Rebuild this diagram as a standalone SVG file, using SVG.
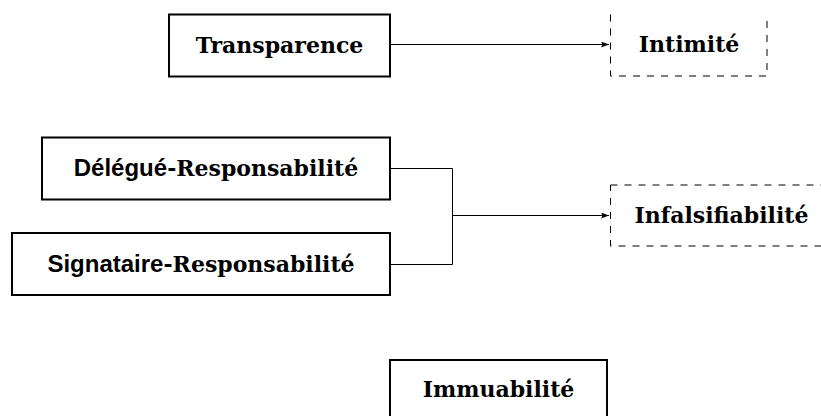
<svg xmlns="http://www.w3.org/2000/svg" width="821" height="416" viewBox="0 0 821 416">
  <style>
    .box { fill: #ffffff; stroke: #000000; stroke-width: 2; }
    .dbox { fill: #ffffff; stroke: #000000; stroke-width: 1; stroke-dasharray: 7 7; }
    .wire { fill: none; stroke: #000000; stroke-width: 1; }
    .lbl { font-family: "DejaVu Serif", "Liberation Serif", serif; font-weight: bold; font-size: 22px; fill: #000000; text-anchor: middle; }
    .sf { font-family: "Liberation Sans", "DejaVu Sans", sans-serif; font-weight: bold; font-size: 24px; }
  </style>
  <defs>
    <marker id="tip" markerUnits="userSpaceOnUse" markerWidth="8" markerHeight="6" refX="8" refY="3" orient="auto">
      <path d="M0,0 L8,3 L0,6 L1.5,3 Z" fill="#000000"/>
    </marker>
  </defs>
  <rect width="821" height="416" fill="#ffffff"/>

  <g id="connectors">
    <line class="wire" x1="390" y1="44.5" x2="609" y2="44.5" marker-end="url(#tip)"/>
    <polyline class="wire" points="390,168.5 452.5,168.5 452.5,264.5 390,264.5"/>
    <line class="wire" x1="452.5" y1="215.5" x2="609" y2="215.5" marker-end="url(#tip)"/>
  </g>

  <g id="transparence">
    <rect class="box" x="169" y="14.5" width="221" height="62"/>
    <text class="lbl" x="279.5" y="52.5">Transparence</text>
  </g>

  <g id="intimite">
    <!-- dashed outline; its top edge lies on the upper border of the canvas -->
    <path class="dbox" d="M610.5,14.5 V76 H767 V14.5"/>
    <text class="lbl" x="689" y="52">Intimité</text>
  </g>

  <g id="delegue">
    <rect class="box" x="42" y="137.5" width="348" height="62"/>
    <text class="lbl" x="216" y="176"><tspan class="sf">Délégué</tspan>-Responsabilité</text>
  </g>

  <g id="signataire">
    <rect class="box" x="12" y="233" width="378" height="62"/>
    <text class="lbl" x="201" y="271.5"><tspan class="sf">Signataire</tspan>-Responsabilité</text>
  </g>

  <g id="infalsifiabilite">
    <rect class="dbox" x="610.5" y="185" width="222" height="61"/>
    <text class="lbl" x="721.5" y="222.5">Infalsifiabilité</text>
  </g>

  <g id="immuabilite">
    <rect class="box" x="390" y="360" width="217" height="62"/>
    <text class="lbl" x="498.5" y="396.5">Immuabilité</text>
  </g>
</svg>
